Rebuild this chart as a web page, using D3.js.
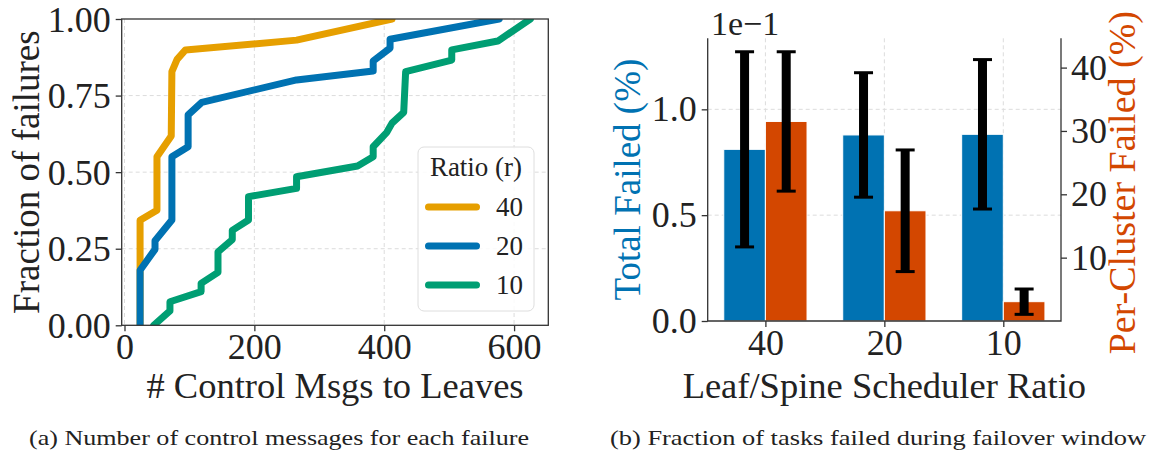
<!DOCTYPE html>
<html>
<head>
<meta charset="utf-8">
<script src="https://cdn.jsdelivr.net/npm/d3@7"></script>
<style>
  body { margin: 0; background: #fff; }
  svg { display: block; }
  text { font-family: "Liberation Serif", "Times New Roman", Times, serif; fill: #222; }
</style>
</head>
<body>
<script>
// ---- (a) CDF of control messages sent to leaves, per failure ----
const ratioLabels = ["40", "20", "10"];
const cdfColors = ["#E69F00", "#0072B2", "#009E73"];

const msgs40 = [24, 24, 50, 50, 72, 73, 81, 94, 265, 412];
const frac40 = [0, 0.343, 0.376, 0.55, 0.618, 0.828, 0.868, 0.899, 0.931, 1.0];

const msgs20 = [24, 24, 47, 47, 73, 73, 98, 98, 119, 265, 383, 383, 409, 409, 577];
const frac20 = [0, 0.18, 0.248, 0.276, 0.344, 0.55, 0.583, 0.687, 0.728, 0.801, 0.83, 0.863, 0.905, 0.934, 1.0];

const msgs10 = [45, 70, 70, 118, 118, 144, 144, 166, 166, 191, 191, 265, 265, 359, 383, 383, 404, 412, 430, 433, 504, 504, 575, 625];
const frac10 = [0, 0.047, 0.077, 0.11, 0.137, 0.173, 0.24, 0.28, 0.31, 0.344, 0.42, 0.447, 0.485, 0.52, 0.55, 0.583, 0.63, 0.66, 0.695, 0.828, 0.866, 0.899, 0.928, 1.0];

const cdfXTicks = [0, 200, 400, 600];
const cdfYTicks = [0, 0.25, 0.5, 0.75, 1.0];

// ---- (b) fraction of tasks failed during failover window ----
const schedRatios = ["40", "20", "10"];
const totalFailed = [0.811, 0.879, 0.882];      // x 1e-1 %
const totalFailedErr = [0.461, 0.294, 0.353];
const clusterFailed = [31.5, 17.4, 3.05];       // %
const clusterFailedErr = [11.0, 9.6, 2.0];
const totalTicks = [0.0, 0.5, 1.0];
const clusterTicks = [10, 20, 30, 40];

const W = 1151, H = 461;
const FONT_TICK = 36, FONT_LABEL = 36.5, FONT_LEGEND = 27;
const spineColor = "#333", gridColor = "#dcdcdc";

const svg = d3.select("body").append("svg")
  .attr("width", W).attr("height", H)
  .attr("viewBox", `0 0 ${W} ${H}`);
svg.append("rect").attr("width", W).attr("height", H).attr("fill", "#fff");

function styleAxis(g, fontSize) {
  g.select(".domain").remove();
  g.selectAll(".tick line").attr("stroke", spineColor).attr("stroke-width", 1.3);
  g.selectAll(".tick text").attr("font-size", fontSize)
    .attr("font-family", '"Liberation Serif", "Times New Roman", serif').attr("fill", "#222");
}

// =================== Panel (a) ===================
{
  const L = 121.7, R = 548.3, T = 19, B = 325.3;
  const x = d3.scaleLinear().domain([-4.3, 652.7]).range([L, R]);
  const y = d3.scaleLinear().domain([0, 1]).range([B, T]);
  const g = svg.append("g");

  // grid
  g.append("g").selectAll("line").data(cdfXTicks).join("line")
    .attr("x1", d => x(d)).attr("x2", d => x(d)).attr("y1", T).attr("y2", B)
    .attr("stroke", gridColor).attr("stroke-width", 1).attr("stroke-dasharray", "4,3");
  g.append("g").selectAll("line").data(cdfYTicks.slice(1, -1)).join("line")
    .attr("x1", L).attr("x2", R).attr("y1", d => y(d)).attr("y2", d => y(d))
    .attr("stroke", gridColor).attr("stroke-width", 1).attr("stroke-dasharray", "4,3");

  svg.append("clipPath").attr("id", "clipA")
    .append("rect").attr("x", L).attr("y", T).attr("width", R - L).attr("height", B - T);

  const series = [
    { name: ratioLabels[0], xs: msgs40, fs: frac40, color: cdfColors[0] },
    { name: ratioLabels[1], xs: msgs20, fs: frac20, color: cdfColors[1] },
    { name: ratioLabels[2], xs: msgs10, fs: frac10, color: cdfColors[2] },
  ];
  const line = d3.line().x(d => x(d[0])).y(d => y(d[1]));
  g.append("g").attr("clip-path", "url(#clipA)")
    .selectAll("path").data(series).join("path")
    .attr("d", s => line(s.xs.map((v, i) => [v, s.fs[i]])))
    .attr("fill", "none").attr("stroke", s => s.color)
    .attr("stroke-width", 7).attr("stroke-linejoin", "round").attr("stroke-linecap", "round");

  // spines
  g.append("rect").attr("x", L).attr("y", T).attr("width", R - L).attr("height", B - T)
    .attr("fill", "none").attr("stroke", spineColor).attr("stroke-width", 1.3);

  // axes
  const ax = g.append("g").attr("transform", `translate(0,${B})`)
    .call(d3.axisBottom(x).tickValues(cdfXTicks).tickFormat(d3.format("d")).tickSize(6).tickPadding(2));
  styleAxis(ax, FONT_TICK);
  const ay = g.append("g").attr("transform", `translate(${L},0)`)
    .call(d3.axisLeft(y).tickValues(cdfYTicks).tickFormat(d3.format(".2f")).tickSize(6).tickPadding(5));
  styleAxis(ay, FONT_TICK);
  ay.selectAll(".tick text").attr("dy", "0.34em");

  g.append("text").attr("x", (L + R) / 2).attr("y", 398).attr("text-anchor", "middle")
    .attr("font-size", FONT_LABEL).text("# Control Msgs to Leaves");
  g.append("text").attr("transform", `translate(39,${(T + B) / 2}) rotate(-90)`)
    .attr("text-anchor", "middle").attr("font-size", FONT_LABEL + 0.5).text("Fraction of failures");

  // legend
  const lg = g.append("g");
  lg.append("rect").attr("x", 418).attr("y", 147).attr("width", 116).attr("height", 164)
    .attr("rx", 6).attr("fill", "#fff").attr("fill-opacity", 0.85)
    .attr("stroke", "#dedede").attr("stroke-width", 1);
  lg.append("text").attr("x", 476).attr("y", 176).attr("text-anchor", "middle")
    .attr("font-size", FONT_LEGEND).text("Ratio (r)");
  const rows = lg.selectAll("g.row").data(series).join("g").attr("class", "row")
    .attr("transform", (d, i) => `translate(0,${207 + i * 39})`);
  rows.append("line").attr("x1", 428.5).attr("x2", 476.5).attr("y1", 0).attr("y2", 0)
    .attr("stroke", d => d.color).attr("stroke-width", 7).attr("stroke-linecap", "round");
  rows.append("text").attr("x", 496).attr("y", 9).attr("font-size", FONT_LEGEND).text(d => d.name);
}

// =================== Panel (b) ===================
{
  const L = 707.7, R = 1061, T = 38.3, B = 321;
  const barW = 0.35;
  const n = schedRatios.length;
  const pad = 0.05 * ((n - 1) + 2 * barW);
  const x = d3.scaleLinear().domain([-barW - pad, (n - 1) + barW + pad]).range([L, R]);
  const topL = d3.max(totalFailed.map((v, i) => v + totalFailedErr[i])) * 1.05;
  const topR = d3.max(clusterFailed.map((v, i) => v + clusterFailedErr[i])) * 1.05;
  const yL = d3.scaleLinear().domain([0, topL]).range([B, T]);
  const yR = d3.scaleLinear().domain([0, topR]).range([B, T]);
  const g = svg.append("g");

  // grid
  g.append("g").selectAll("line").data(d3.range(n)).join("line")
    .attr("x1", d => x(d)).attr("x2", d => x(d)).attr("y1", T).attr("y2", B)
    .attr("stroke", gridColor).attr("stroke-width", 1).attr("stroke-dasharray", "4,3");
  g.append("g").selectAll("line").data(totalTicks.slice(1)).join("line")
    .attr("x1", L).attr("x2", R).attr("y1", d => yL(d)).attr("y2", d => yL(d))
    .attr("stroke", gridColor).attr("stroke-width", 1).attr("stroke-dasharray", "4,3");

  const blue = "#0072B2", red = "#D34700";
  // bars
  g.append("g").selectAll("rect").data(totalFailed).join("rect")
    .attr("x", (d, i) => x(i - barW)).attr("width", (d, i) => x(i) - x(i - barW))
    .attr("y", d => yL(d)).attr("height", d => B - yL(d))
    .attr("fill", blue).attr("stroke", "#fff").attr("stroke-width", 1);
  g.append("g").selectAll("rect").data(clusterFailed).join("rect")
    .attr("x", (d, i) => x(i)).attr("width", (d, i) => x(i + barW) - x(i))
    .attr("y", d => yR(d)).attr("height", d => B - yR(d))
    .attr("fill", red).attr("stroke", "#fff").attr("stroke-width", 1);

  // error bars
  function errBars(vals, errs, scale, offset) {
    const eg = g.append("g");
    vals.forEach((v, i) => {
      const cx = x(i + offset);
      const y1 = scale(v + errs[i]), y2 = scale(v - errs[i]);
      eg.append("line").attr("x1", cx).attr("x2", cx).attr("y1", y1).attr("y2", y2)
        .attr("stroke", "#000").attr("stroke-width", 9);
      [y1, y2].forEach(yy => eg.append("line").attr("x1", cx - 9.5).attr("x2", cx + 9.5)
        .attr("y1", yy).attr("y2", yy).attr("stroke", "#000").attr("stroke-width", 3));
    });
  }
  errBars(totalFailed, totalFailedErr, yL, -barW / 2);
  errBars(clusterFailed, clusterFailedErr, yR, barW / 2);

  // spines
  g.append("path").attr("d", `M${L},${T}V${B}H${R}V${T}`)
    .attr("fill", "none").attr("stroke", spineColor).attr("stroke-width", 1.3);

  const ax = g.append("g").attr("transform", `translate(0,${B})`)
    .call(d3.axisBottom(x).tickValues(d3.range(n)).tickFormat(i => schedRatios[i]).tickSize(6).tickPadding(2));
  styleAxis(ax, FONT_TICK);
  const ayl = g.append("g").attr("transform", `translate(${L},0)`)
    .call(d3.axisLeft(yL).tickValues(totalTicks).tickFormat(d3.format(".1f")).tickSize(6).tickPadding(5));
  styleAxis(ayl, FONT_TICK);
  const ayr = g.append("g").attr("transform", `translate(${R},0)`)
    .call(d3.axisRight(yR).tickValues(clusterTicks).tickFormat(d3.format("d")).tickSize(6).tickPadding(4));
  styleAxis(ayr, FONT_TICK);

  g.append("text").attr("x", 711).attr("y", 35).attr("font-size", 34).text("1e\u22121");

  g.append("text").attr("x", (L + R) / 2).attr("y", 398).attr("text-anchor", "middle")
    .attr("font-size", FONT_LABEL).text("Leaf/Spine Scheduler Ratio");
  g.append("text").attr("transform", `translate(640,${(T + B) / 2}) rotate(-90)`)
    .attr("text-anchor", "middle").attr("font-size", FONT_LABEL + 0.5).style("fill", blue)
    .text("Total Failed (%)");
  g.append("text").attr("transform", `translate(1135,${(T + B) / 2 + 3}) rotate(-90)`)
    .attr("text-anchor", "middle").attr("font-size", FONT_LABEL + 1.5).style("fill", red)
    .text("Per-Cluster Failed (%)");
}

// captions
svg.append("text").attr("x", 279).attr("y", 445).attr("text-anchor", "middle")
  .attr("font-size", 21).attr("textLength", 500).attr("lengthAdjust", "spacingAndGlyphs")
  .text("(a) Number of control messages for each failure");
svg.append("text").attr("x", 878).attr("y", 445).attr("text-anchor", "middle")
  .attr("font-size", 21).attr("textLength", 536).attr("lengthAdjust", "spacingAndGlyphs")
  .text("(b) Fraction of tasks failed during failover window");
</script>
</body>
</html>
